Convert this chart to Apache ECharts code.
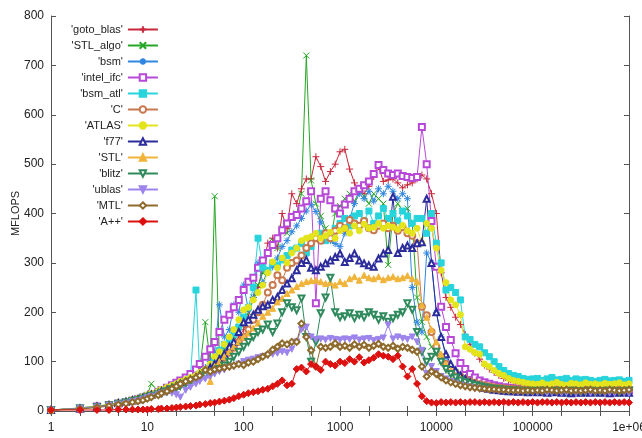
<!DOCTYPE html>
<html><head><meta charset="utf-8">
<script src="https://cdn.jsdelivr.net/npm/echarts@6/dist/echarts.min.js"></script>
<style>html,body{margin:0;padding:0;background:#fff}#c{width:642px;height:438px}</style>
</head><body><div id="c"></div>
<script>
// vector sizes (x)
const sizes = [1,2,3,4,5,6,7,8,9,10,
 11,13,14,16,18,20,22,25,28,32,35,40,45,50,56,63,71,79,89,100,
 112,126,141,158,178,200,224,251,282,316,355,398,447,501,562,631,708,794,891,1000,
 1122,1259,1413,1585,1778,1995,2239,2512,2818,3162,3548,3981,4467,5012,5623,6310,7079,7943,8913,10000,
 11220,12589,14125,15849,17783,19953,22387,25119,28184,31623,35481,39811,44668,50119,56234,63096,70795,79433,89125,100000,
 112202,125893,141254,158489,177828,199526,223872,251189,281838,316228,354813,398107,446684,501187,562341,630957,707946,794328,891251,1000000];

const gotoBlas = [2,5,9,12,16,19,22,24,27,31, 34,37,41,44,49,53,57,61,66,71, 76,85,92,98,108,118,126,135,150,165,
 190,230,250,290,340,350,330,400,370,440, 420,450,470,470,515,495,465,485,500,525, 530,490,462,445,440,455,475,495,465,468,
 470,462,452,458,462,470,478,470,440,400, 280,230,210,190,175,155,135,117,105,93, 85,78,72,66,62,58,56,54,52,50,
 50,48,50,47,49,48,46,49,48,47, 49,47,48,46,48,47,49,46,48,47];
const stlAlgo = [2,6,10,13,17,20,23,26,30,33, 55,40,44,48,52,56,60,64,70,76, 85,180,100,435,110,125,140,150,160,175,
 200,230,255,280,320,345,330,370,360,395, 400,440,720,467,420,395,370,345,400,415, 430,440,425,445,435,420,440,430,420,296,
 400,420,405,410,380,230,180,150,130,115, 100,90,85,78,72,68,63,60,56,52, 50,48,46,45,44,43,44,42,43,42,
 42,41,43,42,40,42,41,43,42,41, 42,40,42,41,43,42,40,42,41,42];
const bsm = [2,6,10,12,16,19,22,25,28,31, 34,38,42,45,50,53,57,62,67,70, 78,88,100,120,215,150,165,215,200,255,
 205,230,300,260,285,292,310,333,345,363, 375,390,405,418,404,383,360,345,339,333, 360,390,420,440,430,445,425,450,440,455,
 445,430,440,430,250,180,160,320,300,200, 150,110,90,80,72,65,60,55,52,50, 47,46,44,43,42,41,42,40,41,40,
 40,39,41,40,38,40,39,41,40,39, 40,38,40,39,41,40,38,40,39,40];
const intelIfc = [2,5,9,12,15,18,21,24,27,30, 34,38,42,47,52,57,62,68,75,84, 95,110,125,140,160,185,195,210,225,245,
 262,270,290,305,320,336,350,366,380,393, 397,410,425,445,218,430,445,427,410,400, 418,430,445,450,457,465,480,498,488,481,
 478,481,476,474,472,474,575,500,385,292, 211,170,144,117,97,85,75,68,62,58, 55,52,50,48,47,46,45,44,44,43,
 43,42,44,43,42,43,44,42,43,42, 43,44,42,43,42,44,43,42,43,42];
const bsmAtl = [2,6,9,12,16,19,21,24,27,30, 33,36,40,44,48,52,56,60,66,245, 75,82,90,100,123,135,145,155,170,190,
 210,250,350,290,285,300,295,306,315,326, 330,339,320,333,350,360,345,355,370,380, 390,375,395,400,385,405,380,395,410,390,
 400,385,405,395,380,390,390,360,400,340, 300,245,250,240,225,150,145,135,130,118, 110,100,90,82,76,72,70,66,64,65,
 66,62,65,68,63,64,66,62,65,63, 64,62,60,62,64,61,62,63,60,62];
const cLang = [2,5,9,12,15,18,21,24,27,30, 33,37,40,44,48,51,55,59,64,68, 73,80,86,93,100,108,118,128,140,150,
 165,185,200,215,240,255,275,265,290,300, 305,315,330,340,350,345,360,350,365,375, 370,387,380,375,385,370,366,375,380,370,
 375,365,372,360,355,340,211,194,160,130, 110,95,85,77,70,65,60,57,54,52, 50,48,47,46,45,45,44,45,44,43,
 45,44,46,45,43,45,44,46,44,45, 44,46,45,43,45,44,46,45,44,45];
const atlas = [2,6,10,13,17,20,23,26,29,33, 36,40,44,48,52,55,60,64,68,72, 78,84,95,110,120,135,150,165,185,205,
 210,225,240,255,280,302,290,310,300,320, 330,345,350,353,360,350,355,362,350,365, 370,360,375,365,378,370,372,380,370,375,
 372,368,376,365,360,370,340,380,370,330, 285,260,225,215,195,130,125,118,115,95, 90,82,76,72,66,62,60,58,56,55,
 54,57,53,55,58,54,52,56,55,53, 57,54,55,53,56,54,55,57,53,55];
const f77 = [2,5,9,12,16,19,22,24,27,30, 33,36,40,43,47,51,55,59,64,68, 73,80,88,95,105,115,130,140,160,180,
 185,195,205,212,215,225,231,245,258,269, 285,300,306,290,285,292,299,305,312,319, 302,310,319,305,299,295,292,309,319,326,
 434,320,330,335,330,340,342,430,300,200, 150,115,95,82,72,65,58,54,50,47, 45,43,42,41,40,40,39,40,38,39,
 38,39,37,38,39,37,38,36,38,37, 38,37,39,37,38,36,38,37,38,37];
const stl = [2,5,8,11,15,18,21,23,26,29, 32,35,39,43,47,51,55,60,64,68, 72,78,60,90,100,110,120,130,140,150,
 158,168,178,192,200,208,221,228,238,245, 252,258,262,264,265,262,258,260,255,262, 258,268,272,265,275,270,268,272,266,270,
 272,268,270,274,268,262,215,190,165,140, 115,95,82,73,66,60,56,53,50,48, 47,46,45,45,44,44,43,44,43,44,
 44,43,45,44,43,44,45,43,44,43, 44,45,43,44,43,45,44,43,44,45];
const blitz = [2,5,8,11,14,17,20,22,25,28, 31,34,37,40,44,47,51,55,59,63, 67,72,76,80,85,92,100,110,120,130,
 140,150,160,165,175,160,177,200,218,210, 204,228,150,100,140,198,230,270,200,190, 192,198,188,195,190,200,195,185,192,181,
 188,195,200,218,205,160,120,100,110,120, 100,85,75,68,62,58,55,52,50,48, 46,45,44,43,42,42,41,41,40,41,
 40,41,39,40,41,40,39,41,40,39, 40,41,39,40,39,41,40,39,40,41];
const ublas = [2,5,8,11,14,16,19,21,24,27, 30,33,36,38,36,33,28,42,48,55, 60,65,70,75,80,83,88,90,95,100,
 103,105,108,110,112,115,117,120,118,125, 140,165,170,150,145,146,144,147,145,144, 146,145,148,144,146,147,143,145,148,174,
 146,150,147,145,150,140,123,76,90,80, 70,65,60,56,52,50,48,46,44,43, 42,41,40,40,39,39,38,38,38,37,
 37,38,36,37,38,36,37,38,36,37, 38,36,37,38,36,37,36,38,37,36];
const mtl = [2,4,7,10,13,15,18,20,22,25, 28,32,36,40,45,50,55,60,64,68, 72,83,80,84,86,88,90,92,95,93,
 98,100,105,110,115,124,130,137,135,140, 140,177,150,123,90,130,128,130,137,130, 132,128,135,130,134,128,132,136,130,128,
 132,126,130,128,124,120,90,70,80,75, 68,62,58,55,52,50,48,47,46,45, 44,44,43,43,42,42,42,41,42,41,
 42,41,43,42,41,42,43,41,42,41, 42,43,41,42,41,43,42,41,42,43];
const aPlusPlus = [2,2,2,2,3,3,3,3,3,3, 4,4,5,5,6,7,8,9,10,11, 13,14,16,17,19,21,23,26,30,33,
 36,38,40,43,45,50,55,62,52,55, 85,88,80,95,90,83,100,95,92,100, 97,105,100,109,98,103,108,115,112,110,
 105,112,90,70,85,55,30,20,17,16, 18,17,18,17,18,17,18,18,17,18, 17,18,17,18,17,18,17,18,17,18,
 17,18,18,17,18,17,18,17,18,17, 18,17,18,17,18,17,18,17,18,17];

const seriesNames = ["'goto_blas'","'STL_algo'","'bsm'","'intel_ifc'","'bsm_atl'","'C'","'ATLAS'","'f77'","'STL'","'blitz'","'ublas'","'MTL'","'A++'"];
const seriesValues = [gotoBlas, stlAlgo, bsm, intelIfc, bsmAtl, cLang, atlas, f77, stl, blitz, ublas, mtl, aPlusPlus];
const xLabelValues = [1,10,100,1000,10000,100000,1000000];
const xTickValues = [1,2,5,10,20,50,100,200,500,1000,2000,5000,10000,20000,50000,100000,200000,500000,1000000];
const yMin = 0, yMax = 800, yStep = 100;

// styles (kept apart from data)
const PLUS = 'path://M5,0L5,10M0,5L10,5';
const CROSS = 'path://M0,0L10,10M10,0L0,10';
const STAR = 'path://M5,0L5,10M0,5L10,5M1.5,1.5L8.5,8.5M8.5,1.5L1.5,8.5';
const styles = [
  {c:'#c8283c', s:PLUS, z:7},
  {c:'#26a626', s:CROSS, z:6},
  {c:'#2f86e0', s:STAR, z:7},
  {c:'#b848d8', s:'emptyRect', z:6},
  {c:'#28d4dc', s:'rect', z:6},
  {c:'#c8784e', s:'emptyCircle', z:6},
  {c:'#e4e41c', s:'circle', z:6},
  {c:'#2c2c9c', s:'emptyTriangle', z:6},
  {c:'#f0b43a', s:'triangle', z:6},
  {c:'#2e8a5c', s:'emptyTriangle', z:6, r:180},
  {c:'#9c84ec', s:'triangle', z:6, r:180},
  {c:'#8e6a2c', s:'emptyDiamond', z:6},
  {c:'#dd1010', s:'diamond', z:7}
];

const FONT = 'Liberation Sans';
const TXT = '#222';
const AX = '#555';

const series = seriesNames.map((name, i) => {
  const st = styles[i];
  return {
    name: name,
    type: 'line',
    xAxisIndex: 0, yAxisIndex: 0,
    data: sizes.map((x, j) => [x, seriesValues[i][j]]),
    symbol: st.s,
    symbolSize: st.z,
    symbolRotate: st.r || 0,
    showAllSymbol: true,
    lineStyle: {color: st.c, width: 1},
    itemStyle: {color: st.c, borderColor: st.c, borderWidth: 1},
    emphasis: {disabled: true},
    animation: false
  };
});

const chart = echarts.init(document.getElementById('c'), null, {renderer: 'canvas'});
const xBase = {
  type: 'log', logBase: 10, min: 1, max: 1000000,
  axisLine: {show: true, lineStyle: {color: AX, width: 1}},
  splitLine: {show: false},
  minorTick: {show: false}
};
const yBase = {
  type: 'value', min: yMin, max: yMax, interval: yStep,
  axisLine: {show: true, lineStyle: {color: AX, width: 1}},
  splitLine: {show: false},
  axisTick: {show: true, inside: true, length: 5, lineStyle: {color: AX}}
};
chart.setOption({
  animation: false,
  backgroundColor: '#fff',
  grid: {left: 51, right: 13, top: 16, bottom: 27, containLabel: false, outerBoundsMode: 'none'},
  legend: {
    orient: 'vertical', left: 71, top: 24, padding: 0,
    itemWidth: 30, itemHeight: 8, itemGap: 5, align: 'right',
    selectedMode: false,
    data: seriesNames,
    textStyle: {fontFamily: FONT, fontSize: 11, lineHeight: 8, color: TXT}
  },
  xAxis: [
    Object.assign({}, xBase, {
      position: 'bottom',
      axisTick: {show: true, inside: true, length: 5, lineStyle: {color: AX}, customValues: xTickValues},
      axisLabel: {show: true, fontFamily: FONT, fontSize: 12, color: TXT, margin: 11,
        customValues: xLabelValues,
        formatter: v => (v >= 1000000 ? '1e+06' : String(Math.round(v)))}
    }),
    Object.assign({}, xBase, {
      position: 'top',
      axisTick: {show: true, inside: true, length: 5, lineStyle: {color: AX}, customValues: xTickValues},
      axisLabel: {show: false}
    })
  ],
  yAxis: [
    Object.assign({}, yBase, {
      position: 'left',
      name: 'MFLOPS', nameLocation: 'middle', nameGap: 30, nameRotate: 90, nameMoveOverlap: false,
      nameTextStyle: {fontFamily: FONT, fontSize: 11, color: TXT},
      axisLabel: {show: true, fontFamily: FONT, fontSize: 12, color: TXT, margin: 7}
    }),
    Object.assign({}, yBase, {position: 'right', axisLabel: {show: false}})
  ],
  series: series
});
</script></body></html>
